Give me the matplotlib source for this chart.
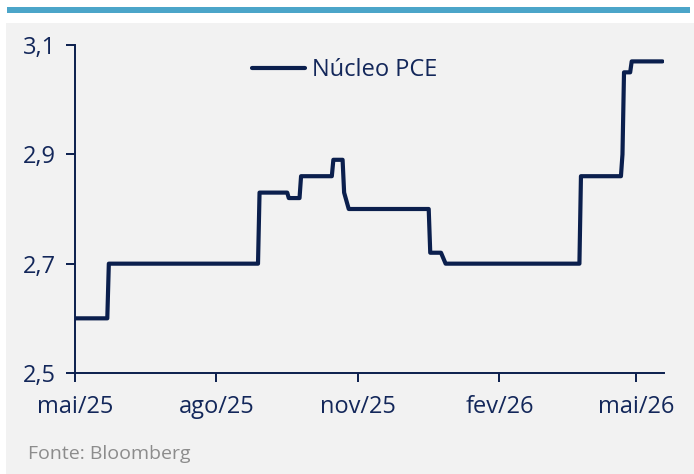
import matplotlib
matplotlib.use("Agg")
import matplotlib.pyplot as plt
import matplotlib.dates as mdates
from matplotlib.patches import Rectangle
from matplotlib.ticker import FixedLocator
import pandas as pd

# ---- data ----
dates = ["2025-05-01", "2025-05-22", "2025-05-23", "2025-08-28", "2025-08-29",
         "2025-09-16", "2025-09-17", "2025-09-24", "2025-09-25", "2025-10-15",
         "2025-10-16", "2025-10-22", "2025-10-23", "2025-10-26", "2025-12-17",
         "2025-12-18", "2025-12-25", "2025-12-28", "2026-03-25", "2026-03-26",
         "2026-04-21", "2026-04-22", "2026-04-23", "2026-04-27", "2026-04-28",
         "2026-05-18"]
values = [2.60, 2.60, 2.70, 2.70, 2.83,
          2.83, 2.82, 2.82, 2.86, 2.86,
          2.89, 2.89, 2.83, 2.80, 2.80,
          2.72, 2.72, 2.70, 2.70, 2.86,
          2.86, 2.90, 3.05, 3.05, 3.07,
          3.07]
series_name = "Núcleo PCE"
x_tick_dates = ["2025-05-01", "2025-08-01", "2025-11-01", "2026-02-01", "2026-05-01"]
x_tick_labels = ["mai/25", "ago/25", "nov/25", "fev/26", "mai/26"]
y_ticks = [2.5, 2.7, 2.9, 3.1]
y_tick_labels = ["2,5", "2,7", "2,9", "3,1"]
source = "Fonte: Bloomberg"

# ---- style ----
plt.rcParams['font.family'] = ['Open Sans', 'DejaVu Sans']
NAVY = "#0b1f4d"
TEXT = "#13275a"
BG = "#f2f2f2"
TEAL = "#4ba5c9"

W, H = 694, 474
fig = plt.figure(figsize=(W / 100, H / 100), dpi=100)
fig.patch.set_facecolor("white")
fig.add_artist(Rectangle((6 / W, 0), 1 - 6 / W, (H - 23) / H, transform=fig.transFigure,
                         facecolor=BG, edgecolor="none", zorder=0))
fig.add_artist(Rectangle((7 / W, (H - 13) / H), (690 - 7) / W, 6 / H, transform=fig.transFigure,
                         facecolor=TEAL, edgecolor="none", zorder=0))

ax = fig.add_axes([75 / W, (H - 373) / H, (664 - 75) / W, (373 - 45) / H])
ax.set_facecolor("none")

x = pd.to_datetime(dates)
ax.plot(x, values, color=NAVY, lw=3.0, solid_joinstyle="round", solid_capstyle="round",
        label=series_name, zorder=3)

ax.set_ylim(2.5, 3.1)
ax.set_xlim(pd.Timestamp("2025-05-01"), pd.Timestamp("2026-05-19"))

ax.yaxis.set_major_locator(FixedLocator(y_ticks))
ax.set_yticklabels(y_tick_labels)
xt = mdates.date2num(pd.to_datetime(x_tick_dates))
ax.xaxis.set_major_locator(FixedLocator(xt))
ax.set_xticklabels(x_tick_labels)

for s in ["top", "right"]:
    ax.spines[s].set_visible(False)
for s in ["left", "bottom"]:
    ax.spines[s].set_color(NAVY)
    ax.spines[s].set_linewidth(1.4)
ax.tick_params(axis="both", colors=NAVY, width=1.4, length=6.5, labelcolor=TEXT, labelsize=17)
ax.tick_params(axis="x", pad=9)
ax.tick_params(axis="y", pad=7)

leg = ax.legend(loc="center left", bbox_to_anchor=((252 - 75) / 589, (373 - 70) / 328),
                frameon=False, fontsize=17, handlelength=2.25, handletextpad=0.27,
                borderpad=0, borderaxespad=0)
for t in leg.get_texts():
    t.set_color(TEXT)

fig.text(28 / W, (H - 454) / H, source, color="#8c8c8c", fontsize=14, va="center", ha="left")

fig.savefig("out.png", dpi=100)
